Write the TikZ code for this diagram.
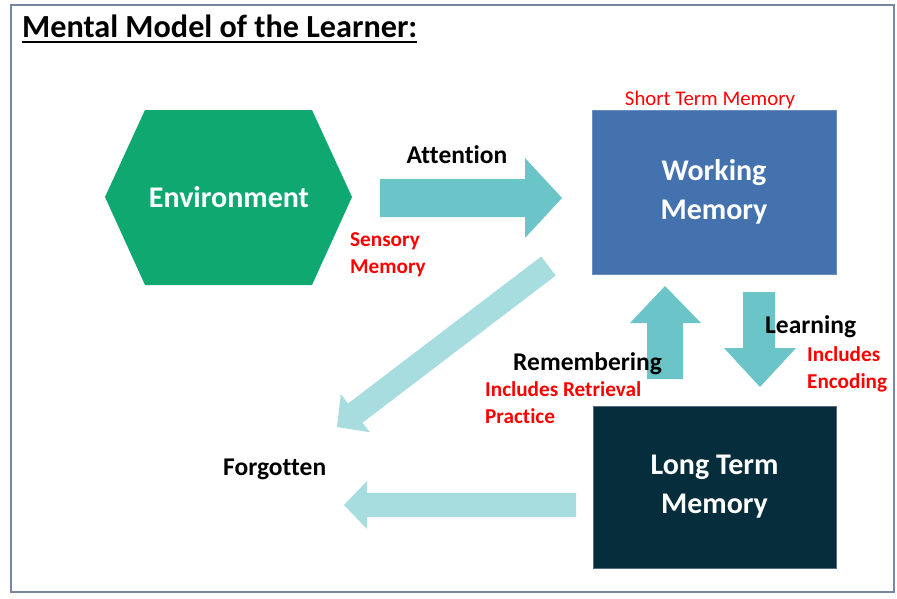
\documentclass[tikz,border=0pt]{standalone}
\usepackage{fontspec}
\setmainfont[Ligatures=NoCommon]{Carlito}
\definecolor{envgreen}{RGB}{14,168,112}
\definecolor{wmblue}{RGB}{68,114,174}
\definecolor{ltmdark}{RGB}{6,45,60}
\definecolor{teal1}{RGB}{107,196,200}
\definecolor{teal2}{RGB}{168,221,224}
\definecolor{frame}{RGB}{120,135,160}
\definecolor{redlab}{RGB}{255,0,0}
\begin{document}
\begin{tikzpicture}[x=1pt,y=-1pt,
  blacklab/.style={font=\fontsize{25.5}{28}\selectfont\bfseries, text=black, inner sep=0pt},
  redtxt/.style={font=\fontsize{21.2}{26.5}\selectfont\bfseries, text=redlab, inner sep=0pt, align=left},
  boxtxt/.style={font=\fontsize{30}{39}\selectfont\bfseries, text=white, align=center},
  bigarrow/.style={fill=teal1, draw=none},
  lightarrow/.style={fill=teal2, draw=none}]
\useasboundingbox (0,0) rectangle (897,598);
\fill[white] (0,0) rectangle (897,598);
\draw[frame, line width=1.6pt] (11,5) rectangle (894,592);
% title
\node[anchor=base west, inner sep=0pt, font=\fontsize{32.2}{36}\selectfont\bfseries] (title) at (22,37) {Mental Model of the Learner:};
\draw[black, line width=2pt] (title.base west) ++(0,5) coordinate (ul1) -- (ul1 -| title.base east);
% environment hexagon
\fill[envgreen] (105,197) -- (145,110) -- (312,110) -- (352,197) -- (312,285) -- (145,285) -- cycle;
\node[boxtxt] (env) at (229,197) {Environment};
% working memory
\node[draw=wmblue!80!white, line width=0.6pt, fill=wmblue, minimum width=244pt, minimum height=164pt, inner sep=0pt] (wm) at (714,192) {};
\node[boxtxt] (wmt) at (wm.center) {Working\\Memory};
\node[anchor=base, inner sep=0pt, text=redlab, font=\fontsize{20.8}{24}\selectfont] (stm) at (710,105) {Short Term Memory};
% long term memory
\node[draw=frame!70!ltmdark, line width=0.6pt, fill=ltmdark, minimum width=243pt, minimum height=162pt, inner sep=0pt] (ltm) at (714.5,487) {};
\node[boxtxt] (ltmt) at (ltm.center) {Long Term\\Memory};
% attention arrow
\fill[bigarrow] (380,179) -- (525,179) -- (525,158) -- (562,198) -- (525,238) -- (525,217) -- (380,217) -- cycle;
% up arrow (remembering)
\fill[bigarrow] (647,379) -- (647,323) -- (630,323) -- (665,286) -- (701,323) -- (683,323) -- (683,379) -- cycle;
% down arrow (learning)
\fill[bigarrow] (743,292) -- (775,292) -- (775,348) -- (796,348) -- (760,387) -- (724,348) -- (743,348) -- cycle;
% diagonal arrow to forgotten
\fill[lightarrow] (541.2,256.5) -- (555.8,275.5) -- (362.6,422.6) -- (369.8,432.2) -- (337,427) -- (340.8,394.0) -- (348.0,403.5) -- cycle;
% left arrow to forgotten
\fill[lightarrow] (576,493) -- (367,493) -- (367,481) -- (344,505) -- (367,529) -- (367,517) -- (576,517) -- cycle;
% labels (multi-line nodes: base = last line)
\node[blacklab, anchor=base] (att) at (457,163) {Attention};
\node[redtxt, anchor=base west] (sens) at (350,273) {Sensory\\Memory};
\node[blacklab, anchor=base west] (learn) at (765,333) {Learning};
\node[redtxt, anchor=base west] (enc) at (807,388) {Includes\\Encoding};
\node[blacklab, anchor=base west] (rem) at (513,370) {Remembering};
\node[redtxt, anchor=base west] (ret) at (485,423) {Includes Retrieval\\Practice};
\node[blacklab, anchor=base west] (forg) at (223,475) {Forgotten};
\end{tikzpicture}
\end{document}
